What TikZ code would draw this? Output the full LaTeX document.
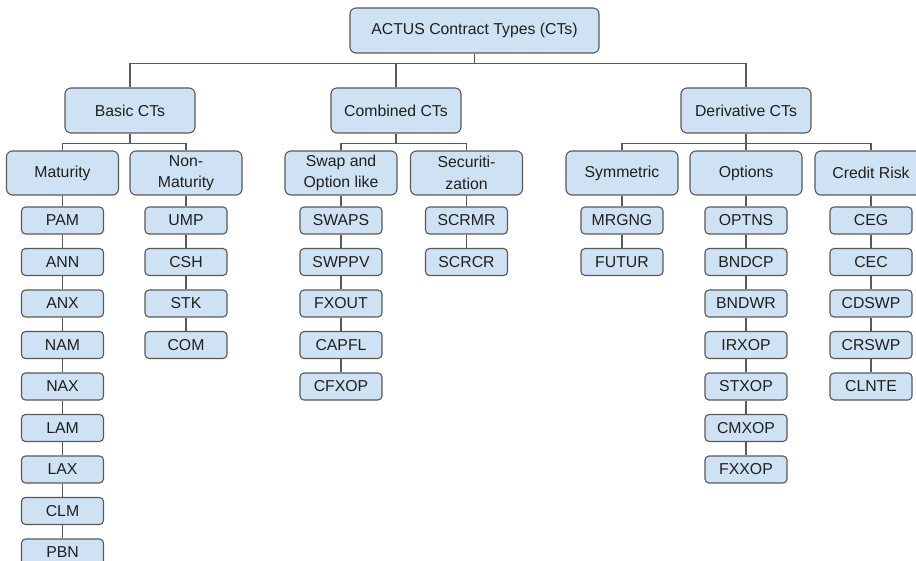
\documentclass[tikz,border=0pt]{standalone}
\usepackage{fontspec}
\setmainfont{Liberation Sans}
\begin{document}
\begin{tikzpicture}[x=1pt,y=-1pt,
  every node/.style={font=\fontsize{15.8}{21.5}\selectfont, text=black!88},
  box/.style={draw=black!65, line width=1.1pt, fill=boxblue, rounded corners=6pt, align=center, inner sep=0pt},
  rootbox/.style={box, minimum width=249pt, minimum height=45pt},
  lvlone/.style={box, minimum width=130pt, minimum height=45pt},
  lvltwo/.style={box, minimum width=112pt, minimum height=44pt},
  leaf/.style={box, rounded corners=4pt, minimum width=82pt, minimum height=27pt},
  link/.style={draw=black!65, line width=1.1pt}
]
\definecolor{boxblue}{HTML}{CFE2F3}
\useasboundingbox (0,0) rectangle (916,561);
\clip (0,0) rectangle (916,561);
\fill[white] (0,0) rectangle (916,561);

\node[rootbox] (root) at (474.5,30.5) {ACTUS Contract Types (CTs)};

\node[lvlone] (basic) at (130,110.5) {Basic CTs};
\node[lvlone] (comb) at (396,110.5) {Combined CTs};
\node[lvlone] (deriv) at (746,110.5) {Derivative CTs};

\node[lvltwo] (mat) at (62.5,173) {Maturity};
\node[lvltwo] (nonmat) at (186,173) {Non-\\Maturity};
\node[lvltwo] (swap) at (341,173) {Swap and\\Option like};
\node[lvltwo] (secur) at (466.5,173) {Securiti-\\zation};
\node[lvltwo] (sym) at (622,173) {Symmetric};
\node[lvltwo] (opt) at (746,173) {Options};
\node[lvltwo] (cred) at (871,173) {Credit Risk};

\draw[link] (root.south) -- ++(0,10) -| (basic.north);
\draw[link] (root.south) -- ++(0,10) -| (comb.north);
\draw[link] (root.south) -- ++(0,10) -| (deriv.north);

\foreach \p/\c in {basic/mat, basic/nonmat, comb/swap, comb/secur, deriv/sym, deriv/opt, deriv/cred}
  \draw[link] (\p.south) -- ++(0,10) -| (\c.north);

% leaf chains
\newcommand{\leafchain}[3]{%
  \foreach \name [count=\k from 0] in {#3} {
    \node[leaf] (#1-\k) at (#2, 220.5+41.5*\k) {\name};
  }%
}
\leafchain{m}{62.5}{PAM,ANN,ANX,NAM,NAX,LAM,LAX,CLM,PBN}
\leafchain{n}{186}{UMP,CSH,STK,COM}
\leafchain{s}{341}{SWAPS,SWPPV,FXOUT,CAPFL,CFXOP}
\leafchain{z}{466.5}{SCRMR,SCRCR}
\leafchain{y}{622}{MRGNG,FUTUR}
\leafchain{o}{746}{OPTNS,BNDCP,BNDWR,IRXOP,STXOP,CMXOP,FXXOP}
\leafchain{c}{871}{CEG,CEC,CDSWP,CRSWP,CLNTE}

\draw[link] (mat.south) -- (m-0.north);
\foreach \a [evaluate=\a as \b using int(\a+1)] in {0,...,7} \draw[link] (m-\a.south) -- (m-\b.north);
\draw[link] (nonmat.south) -- (n-0.north);
\foreach \a [evaluate=\a as \b using int(\a+1)] in {0,...,2} \draw[link] (n-\a.south) -- (n-\b.north);
\draw[link] (swap.south) -- (s-0.north);
\foreach \a [evaluate=\a as \b using int(\a+1)] in {0,...,3} \draw[link] (s-\a.south) -- (s-\b.north);
\draw[link] (secur.south) -- (z-0.north);
\draw[link] (z-0.south) -- (z-1.north);
\draw[link] (sym.south) -- (y-0.north);
\draw[link] (y-0.south) -- (y-1.north);
\draw[link] (opt.south) -- (o-0.north);
\foreach \a [evaluate=\a as \b using int(\a+1)] in {0,...,5} \draw[link] (o-\a.south) -- (o-\b.north);
\draw[link] (cred.south) -- (c-0.north);
\foreach \a [evaluate=\a as \b using int(\a+1)] in {0,...,3} \draw[link] (c-\a.south) -- (c-\b.north);
\end{tikzpicture}
\end{document}
